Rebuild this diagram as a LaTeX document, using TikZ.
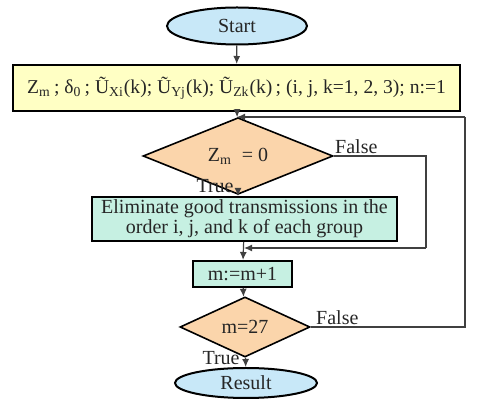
\documentclass[tikz,border=0pt]{standalone}
\usepackage{fontspec}
\setmainfont{Liberation Serif}
\usetikzlibrary{arrows.meta,shapes.geometric}
\definecolor{termblue}{HTML}{C8E8F8}
\definecolor{inityellow}{HTML}{FFFFC4}
\definecolor{condpeach}{HTML}{FBD5AB}
\definecolor{procteal}{HTML}{C6F0E2}
\tikzset{
  term/.style={ellipse, draw, line width=1pt, fill=termblue, inner sep=0pt},
  box/.style={rectangle, draw, line width=1pt, inner sep=0pt, align=center},
  cond/.style={diamond, draw, line width=0.8pt, fill=condpeach, inner sep=0pt},
  flow/.style={draw=black!75, line width=0.6pt, -{Latex[length=4pt,width=3.5pt]}},
  loopline/.style={draw=black!75, line width=0.6pt},
  lbl/.style={inner sep=0pt, text=black!85}}

\begin{document}
\begin{tikzpicture}[x=0.5pt, y=-0.5pt, font=\fontsize{10}{10}\selectfont, text=black!85]
  \useasboundingbox (0,0) rectangle (488,405);
  \node[term, minimum width=70pt, minimum height=18.5pt] (start) at (237,26) {Start};
  \node[box, fill=inityellow, minimum width=223.5pt, minimum height=23pt, font=\fontsize{9.8}{10}\selectfont] (init) at (236.5,88)
    {Z\textsubscript{m}\,; δ\textsubscript{0}\,; Ũ\textsubscript{Xi}(k); Ũ\textsubscript{Yj}(k); Ũ\textsubscript{Zk}(k)\,; (i, j, k=1, 2, 3); n:=1};
  \node[cond, minimum width=95pt, minimum height=27.5pt] (test) at (238,156) {Z\textsubscript{m} \ = 0};
  \node[box, fill=procteal, minimum width=152.5pt, minimum height=22pt] (elim) at (244.5,219)
    {Eliminate good transmissions in the\\order i, j, and k of each group};
  \node[box, fill=procteal, minimum width=49.5pt, minimum height=13pt] (incr) at (242.5,274) {m:=m+1};
  \node[cond, minimum width=65pt, minimum height=27pt] (check) at (245,327) {m=27};
  \node[term, minimum width=71pt, minimum height=15pt] (result) at (246,383) {Result};
  \coordinate (j1) at (237,117);
  \coordinate (j2) at (244,248);
  \coordinate (r1) at (426,156);
  \coordinate (r2) at (465,327);
  \draw[flow] (start) -- (init);
  \draw[flow] (init) -- (test);
  \draw[flow] (test.south) -- (test.south |- elim.north);
  \draw[flow] (elim) -- (incr);
  \draw[flow] (incr) -- (check);
  \draw[flow] (check) -- (result);
  \draw[loopline] (test.east) -- (r1) -- (r1 |- j2);
  \draw[flow] (r1 |- j2) -- (j2);
  \draw[loopline] (check.east) -- (r2) -- (r2 |- j1);
  \draw[flow] (r2 |- j1) -- (j1);
  \node[lbl, anchor=south west] (f1) at ([shift={(1,-2)}]test.east) {False};
  \node[lbl, anchor=south west] (f2) at ([shift={(5,-2)}]check.east) {False};
  \node[lbl, anchor=east] (t1) at (234,186) {True};
  \node[lbl, anchor=east] (t2) at (240,358) {True};
\end{tikzpicture}
\end{document}
